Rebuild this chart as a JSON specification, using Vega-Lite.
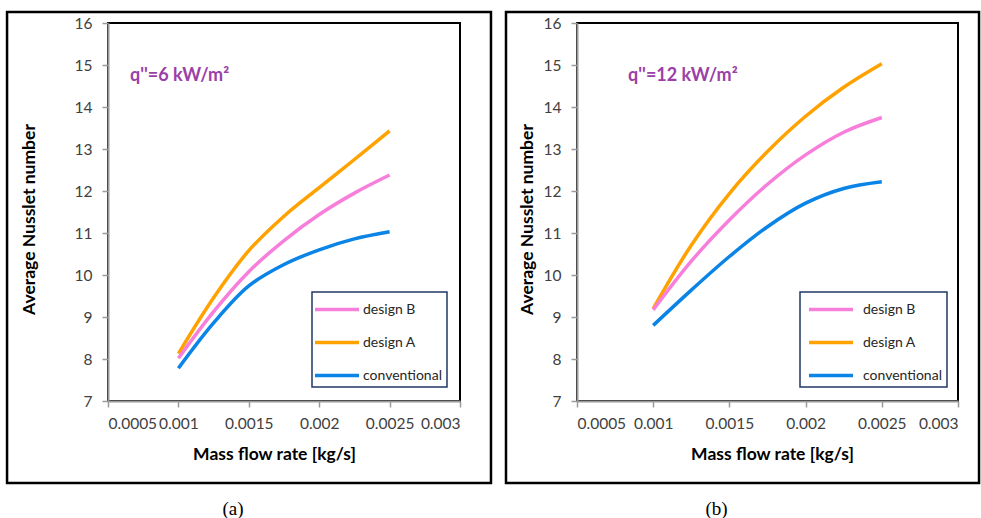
{
  "$schema": "https://vega.github.io/schema/vega-lite/v6.json",
  "background": "white",
  "padding": {"left": 4, "top": 9, "right": 0, "bottom": 0},
  "bounds": "flush",
  "spacing": 117,
  "datasets": {
    "curves": [
      {"panel": "a", "series": "design A", "x": 0.001, "nu": 8.13},
      {"panel": "a", "series": "design A", "x": 0.00125, "nu": 9.46},
      {"panel": "a", "series": "design A", "x": 0.0015, "nu": 10.58},
      {"panel": "a", "series": "design A", "x": 0.00175, "nu": 11.4},
      {"panel": "a", "series": "design A", "x": 0.002, "nu": 12.08},
      {"panel": "a", "series": "design A", "x": 0.00225, "nu": 12.75},
      {"panel": "a", "series": "design A", "x": 0.0025, "nu": 13.43},
      {"panel": "a", "series": "design B", "x": 0.001, "nu": 8.02},
      {"panel": "a", "series": "design B", "x": 0.00125, "nu": 9.13},
      {"panel": "a", "series": "design B", "x": 0.0015, "nu": 10.08},
      {"panel": "a", "series": "design B", "x": 0.00175, "nu": 10.82},
      {"panel": "a", "series": "design B", "x": 0.002, "nu": 11.44},
      {"panel": "a", "series": "design B", "x": 0.00225, "nu": 11.95},
      {"panel": "a", "series": "design B", "x": 0.0025, "nu": 12.38},
      {"panel": "a", "series": "conventional", "x": 0.001, "nu": 7.78},
      {"panel": "a", "series": "conventional", "x": 0.00125, "nu": 8.86},
      {"panel": "a", "series": "conventional", "x": 0.0015, "nu": 9.74},
      {"panel": "a", "series": "conventional", "x": 0.00175, "nu": 10.25},
      {"panel": "a", "series": "conventional", "x": 0.002, "nu": 10.6},
      {"panel": "a", "series": "conventional", "x": 0.00225, "nu": 10.86},
      {"panel": "a", "series": "conventional", "x": 0.0025, "nu": 11.03},
      {"panel": "b", "series": "design A", "x": 0.001, "nu": 9.2},
      {"panel": "b", "series": "design A", "x": 0.00125, "nu": 10.71},
      {"panel": "b", "series": "design A", "x": 0.0015, "nu": 11.94},
      {"panel": "b", "series": "design A", "x": 0.00175, "nu": 12.94},
      {"panel": "b", "series": "design A", "x": 0.002, "nu": 13.78},
      {"panel": "b", "series": "design A", "x": 0.00225, "nu": 14.47},
      {"panel": "b", "series": "design A", "x": 0.0025, "nu": 15.03},
      {"panel": "b", "series": "design B", "x": 0.001, "nu": 9.17},
      {"panel": "b", "series": "design B", "x": 0.00125, "nu": 10.33},
      {"panel": "b", "series": "design B", "x": 0.0015, "nu": 11.31},
      {"panel": "b", "series": "design B", "x": 0.00175, "nu": 12.16},
      {"panel": "b", "series": "design B", "x": 0.002, "nu": 12.86},
      {"panel": "b", "series": "design B", "x": 0.00225, "nu": 13.4},
      {"panel": "b", "series": "design B", "x": 0.0025, "nu": 13.75},
      {"panel": "b", "series": "conventional", "x": 0.001, "nu": 8.8},
      {"panel": "b", "series": "conventional", "x": 0.00125, "nu": 9.64},
      {"panel": "b", "series": "conventional", "x": 0.0015, "nu": 10.44},
      {"panel": "b", "series": "conventional", "x": 0.00175, "nu": 11.15},
      {"panel": "b", "series": "conventional", "x": 0.002, "nu": 11.71},
      {"panel": "b", "series": "conventional", "x": 0.00225, "nu": 12.06},
      {"panel": "b", "series": "conventional", "x": 0.0025, "nu": 12.22}
    ]
  },
  "resolve": {
    "scale": {"color": "independent", "x": "independent", "y": "independent"},
    "legend": {"color": "independent"}
  },
  "config": {
    "font": "Lato",
    "view": {"stroke": "#000", "strokeWidth": 2},
    "axis": {
      "labelFont": "Lato", "labelFontSize": 15.5, "labelColor": "#404040",
      "titleFont": "Lato", "titleFontSize": 17.5, "titleFontWeight": "bold", "titleColor": "#000",
      "grid": false, "domainColor": "#9a9a9a", "domainWidth": 2,
      "tickColor": "#9a9a9a", "tickWidth": 1.5, "tickSize": 6, "labelPadding": 8
    },
    "legend": {
      "orient": "none", "direction": "vertical",
      "symbolType": "M-2,0H2", "symbolSize": 484, "symbolStrokeWidth": 3.5,
      "padding": 4.5, "rowPadding": 13,
      "labelFont": "Lato", "labelFontSize": 14, "labelColor": "#262626",
      "strokeColor": "#203864", "fillColor": "white", "strokeWidth": 1.5
    },
    "title": {"font": "Liberation Serif", "fontSize": 19, "fontWeight": "normal", "color": "#000"}
  },
  "hconcat": [
    {
      "width": 352, "height": 378,
      "title": {"text": "(a)", "orient": "bottom", "dx": -51, "offset": 16},
      "layer": [
        {
          "data": {"values": [{}]},
          "mark": {"type": "rect", "clip": false, "filled": false, "color": "#000", "strokeWidth": 2.5},
          "encoding": {
            "x": {"datum": -0.000217, "type": "quantitative", "scale": {"domain": [0.0005, 0.003]}},
            "x2": {"datum": 0.00322},
            "y": {"datum": 5.048, "type": "quantitative", "scale": {"domain": [7, 16]}},
            "y2": {"datum": 16.262}
          }
        },
        {
          "data": {"name": "curves"},
          "transform": [{"filter": "datum.panel === 'a'"}],
          "mark": {"type": "line", "interpolate": "catmull-rom", "strokeWidth": 3.5},
          "encoding": {
            "x": {
              "field": "x", "type": "quantitative",
              "scale": {"domain": [0.0005, 0.003]},
              "axis": {"values": [0.0005, 0.001, 0.0015, 0.002, 0.0025, 0.003], "format": "~g",
                       "title": "Mass flow rate [kg/s]", "titlePadding": 14, "titleX": 166, "labelPadding": 9}
            },
            "y": {
              "field": "nu", "type": "quantitative",
              "scale": {"domain": [7, 16]},
              "axis": {"values": [7, 8, 9, 10, 11, 12, 13, 14, 15, 16], "title": "Average Nusslet number",
                       "titlePadding": 36, "titleY": 196, "labelPadding": 10}
            },
            "color": {
              "field": "series", "type": "nominal",
              "scale": {"domain": ["design B", "design A", "conventional"], "range": ["#F77FDB", "#FFA200", "#0A84E6"]},
              "legend": {"title": null, "legendX": 204, "legendY": 269, "symbolOffset": 7.5, "labelOffset": 13}
            }
          }
        },
        {
          "data": {"values": [{"label": "q''=6 kW/m²"}]},
          "mark": {"type": "text", "align": "left", "baseline": "middle", "font": "Lato", "fontSize": 18, "fontWeight": "bold", "color": "#9A40A8"},
          "encoding": {
            "x": {"datum": 0.000656, "type": "quantitative", "scale": {"domain": [0.0005, 0.003]}},
            "y": {"datum": 14.74, "type": "quantitative", "scale": {"domain": [7, 16]}},
            "text": {"field": "label"}
          }
        }
      ]
    },
    {
      "width": 381, "height": 378,
      "title": {"text": "(b)", "orient": "bottom", "dx": -51, "offset": 16},
      "layer": [
        {
          "data": {"values": [{}]},
          "mark": {"type": "rect", "clip": false, "filled": false, "color": "#000", "strokeWidth": 2.5},
          "encoding": {
            "x": {"datum": 0.0000341, "type": "quantitative", "scale": {"domain": [0.0005, 0.003]}},
            "x2": {"datum": 0.003138},
            "y": {"datum": 5.048, "type": "quantitative", "scale": {"domain": [7, 16]}},
            "y2": {"datum": 16.262}
          }
        },
        {
          "data": {"name": "curves"},
          "transform": [{"filter": "datum.panel === 'b'"}],
          "mark": {"type": "line", "interpolate": "catmull-rom", "strokeWidth": 3.5},
          "encoding": {
            "x": {
              "field": "x", "type": "quantitative",
              "scale": {"domain": [0.0005, 0.003]},
              "axis": {"values": [0.0005, 0.001, 0.0015, 0.002, 0.0025, 0.003], "format": "~g",
                       "title": "Mass flow rate [kg/s]", "titlePadding": 14, "titleX": 195, "labelPadding": 9}
            },
            "y": {
              "field": "nu", "type": "quantitative",
              "scale": {"domain": [7, 16]},
              "axis": {"values": [7, 8, 9, 10, 11, 12, 13, 14, 15, 16], "title": "Average Nusslet number",
                       "titlePadding": 7, "titleY": 196, "labelPadding": 10}
            },
            "color": {
              "field": "series", "type": "nominal",
              "scale": {"domain": ["design B", "design A", "conventional"], "range": ["#F77FDB", "#FFA200", "#0A84E6"]},
              "legend": {"title": null, "legendX": 223, "legendY": 269, "symbolOffset": 13.5, "labelOffset": 19}
            }
          }
        },
        {
          "data": {"values": [{"label": "q''=12 kW/m²"}]},
          "mark": {"type": "text", "align": "left", "baseline": "middle", "font": "Lato", "fontSize": 18, "fontWeight": "bold", "color": "#9A40A8"},
          "encoding": {
            "x": {"datum": 0.000835, "type": "quantitative", "scale": {"domain": [0.0005, 0.003]}},
            "y": {"datum": 14.74, "type": "quantitative", "scale": {"domain": [7, 16]}},
            "text": {"field": "label"}
          }
        }
      ]
    }
  ]
}
